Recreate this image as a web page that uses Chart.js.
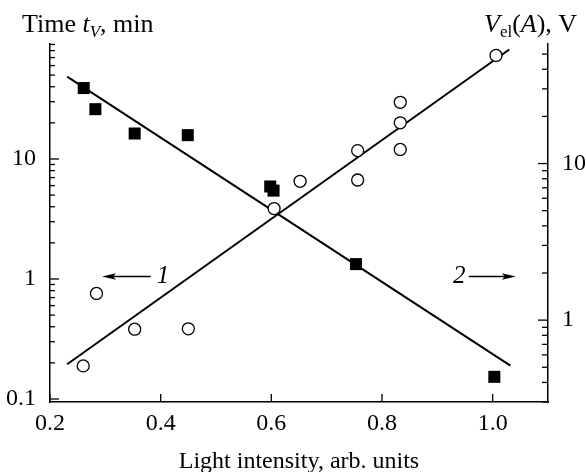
<!DOCTYPE html>
<html>
<head>
<meta charset="utf-8">
<script src="https://cdn.jsdelivr.net/npm/chart.js@4.4.0/dist/chart.umd.min.js"></script>
<style>
  html, body { margin: 0; padding: 0; background: #fff; }
  #wrap { width: 586px; height: 472px; }
</style>
</head>
<body>
<div id="wrap"><canvas id="c" width="586" height="472"></canvas></div>
<script>
// Curve 1: switching time t_V (min) vs light intensity, left axis
const intensity1 = [0.261, 0.282, 0.353, 0.449, 0.598, 0.604, 0.753, 1.003];
const timeTV     = [39, 26, 16.3, 15.8, 5.9, 5.45, 1.33, 0.153];

// Curve 2: V_el(A) (V) vs light intensity, right axis
const intensity2 = [0.26, 0.284, 0.353, 0.45, 0.605, 0.652, 0.756, 0.756, 0.833, 0.833, 0.833, 1.006];
const voltageEl  = [0.51, 1.48, 0.875, 0.88, 5.16, 7.7, 12.1, 7.85, 24.6, 18.2, 12.3, 49];

// Straight-line fits on the log scales (end points)
const fit1X = [0.231, 1.032];
const fit1Y = [48.5, 0.19];
const fit2X = [0.231, 1.030];
const fit2Y = [0.523, 53.5];

// Tick labels
const xTicks = [0.2, 0.4, 0.6, 0.8, 1.0];
const leftMajor = [0.1, 1, 10];
const rightMajor = [1, 10];

const SERIF = '"Liberation Serif", "Times New Roman", serif';

function decadeTicks(lo, hi) {
  const out = [];
  for (let e = lo; e <= hi; e++) {
    for (let m = 1; m <= 9; m++) out.push(Number((m * Math.pow(10, e)).toPrecision(2)));
  }
  return out;
}

function pts(xs, ys) { return xs.map((x, i) => ({ x: x, y: ys[i] })); }

function line(ctx, x1, y1, x2, y2) {
  ctx.beginPath(); ctx.moveTo(x1, y1); ctx.lineTo(x2, y2); ctx.stroke();
}

function arrow(ctx, x1, x2, y) {
  // shaft from x1 to the tip at x2
  const dir = Math.sign(x2 - x1);
  ctx.lineWidth = 1.4;
  line(ctx, x1, y, x2 - dir * 8, y);
  ctx.beginPath();
  ctx.moveTo(x2, y);
  ctx.lineTo(x2 - dir * 14, y - 3.2);
  ctx.lineTo(x2 - dir * 11, y);
  ctx.lineTo(x2 - dir * 14, y + 3.2);
  ctx.closePath();
  ctx.fill();
}

function runs(ctx, x, y, parts) {
  parts.forEach(p => {
    ctx.font = (p.italic ? 'italic ' : '') + p.size + 'px ' + SERIF;
    ctx.fillText(p.t, x, y + (p.dy || 0));
    x += ctx.measureText(p.t).width;
  });
}

const decor = {
  id: 'decor',
  afterDraw(chart) {
    const { ctx, chartArea: a, scales } = chart;
    ctx.save();
    ctx.strokeStyle = '#000';
    ctx.fillStyle = '#000';
    ctx.lineWidth = 1.3;

    // inward tick marks
    scales.x.ticks.forEach(t => {
      const px = scales.x.getPixelForValue(t.value);
      line(ctx, px, a.bottom, px, a.bottom - 8);
    });
    scales.yL.ticks.forEach(t => {
      const py = scales.yL.getPixelForValue(t.value);
      line(ctx, a.left, py, a.left + (t.major ? 9 : 5), py);
    });
    scales.yR.ticks.forEach(t => {
      const py = scales.yR.getPixelForValue(t.value);
      line(ctx, a.right, py, a.right - (t.major ? 10 : 6), py);
    });

    // axis titles at the top
    ctx.textBaseline = 'alphabetic';
    ctx.textAlign = 'left';
    runs(ctx, 22, 32, [
      { t: 'Time ', size: 26 },
      { t: 't', size: 26, italic: true },
      { t: 'V', size: 17, italic: true, dy: 5 },
      { t: ', min', size: 26 }
    ]);
    runs(ctx, 484, 32, [
      { t: 'V', size: 26, italic: true },
      { t: 'el', size: 17, dy: 5 },
      { t: '(', size: 26 },
      { t: 'A', size: 26, italic: true },
      { t: '), V', size: 26 }
    ]);

    // curve markers with arrows pointing to their axes
    const x = scales.x, yL = scales.yL, yR = scales.yR;
    const y1 = yL.getPixelForValue(1.05);
    arrow(ctx, x.getPixelForValue(0.382), x.getPixelForValue(0.294), y1);
    ctx.font = 'italic 25px ' + SERIF;
    ctx.textBaseline = 'middle';
    ctx.textAlign = 'left';
    ctx.fillText('1', x.getPixelForValue(0.393), y1);

    const y2 = yR.getPixelForValue(1.9);
    arrow(ctx, x.getPixelForValue(0.957), x.getPixelForValue(1.042), y2);
    ctx.textAlign = 'right';
    ctx.fillText('2', x.getPixelForValue(0.951), y2);
    ctx.restore();
  }
};

new Chart(document.getElementById('c'), {
  type: 'scatter',
  data: {
    datasets: [
      {
        label: 't_V',
        data: pts(intensity1, timeTV),
        yAxisID: 'yL',
        pointStyle: 'rect',
        pointRadius: 8.5,
        pointBackgroundColor: '#000',
        pointBorderColor: '#000',
        pointBorderWidth: 0
      },
      {
        label: 'V_el',
        data: pts(intensity2, voltageEl),
        yAxisID: 'yR',
        pointStyle: 'circle',
        pointRadius: 6,
        pointBackgroundColor: '#fff',
        pointBorderColor: '#000',
        pointBorderWidth: 1.3
      },
      {
        label: 'fit 1',
        data: pts(fit1X, fit1Y),
        yAxisID: 'yL',
        showLine: true,
        pointRadius: 0,
        borderColor: '#000',
        borderWidth: 2
      },
      {
        label: 'fit 2',
        data: pts(fit2X, fit2Y),
        yAxisID: 'yR',
        showLine: true,
        pointRadius: 0,
        borderColor: '#000',
        borderWidth: 2
      }
    ]
  },
  options: {
    responsive: false,
    animation: false,
    devicePixelRatio: 1,
    layout: { padding: { top: 44, left: 0, right: 0, bottom: 0 } },
    plugins: { legend: { display: false }, tooltip: { enabled: false } },
    scales: {
      x: {
        type: 'linear',
        position: 'bottom',
        min: 0.2,
        max: 1.1,
        afterBuildTicks: s => { s.ticks = xTicks.map(v => ({ value: v })); },
        afterFit: s => { s.height = 70; },
        grid: { display: false },
        border: { display: true, color: '#000', width: 1.5 },
        ticks: {
          color: '#000',
          font: { family: SERIF, size: 24 },
          padding: -1,
          autoSkip: false,
          maxRotation: 0,
          callback: v => Number(v).toFixed(1)
        },
        title: {
          display: true,
          text: 'Light intensity, arb. units',
          color: '#000',
          font: { family: SERIF, size: 24 },
          padding: { top: 0, bottom: -4 }
        }
      },
      yL: {
        type: 'logarithmic',
        position: 'left',
        min: 0.0944,
        max: 90.8,
        afterBuildTicks: s => {
          s.ticks = decadeTicks(-1, 1)
            .filter(v => v >= s.min && v <= s.max)
            .map(v => ({ value: v, major: leftMajor.includes(v) }));
        },
        afterFit: s => { s.width = 50; },
        grid: { display: false },
        border: { display: true, color: '#000', width: 1.5 },
        ticks: {
          color: '#000',
          font: { family: SERIF, size: 24 },
          padding: 6,
          autoSkip: false,
          callback: v => leftMajor.includes(v) ? String(v) : ''
        }
      },
      yR: {
        type: 'logarithmic',
        position: 'right',
        min: 0.347,
        max: 58,
        afterBuildTicks: s => {
          s.ticks = decadeTicks(-1, 1)
            .filter(v => v >= s.min && v <= s.max)
            .map(v => ({ value: v, major: rightMajor.includes(v) }));
        },
        afterFit: s => { s.width = 38; },
        grid: { display: false },
        border: { display: true, color: '#000', width: 1.5 },
        ticks: {
          color: '#000',
          font: { family: SERIF, size: 24 },
          padding: 6,
          autoSkip: false,
          callback: v => rightMajor.includes(v) ? String(v) : ''
        }
      }
    }
  },
  plugins: [decor]
});
</script>
</body>
</html>
